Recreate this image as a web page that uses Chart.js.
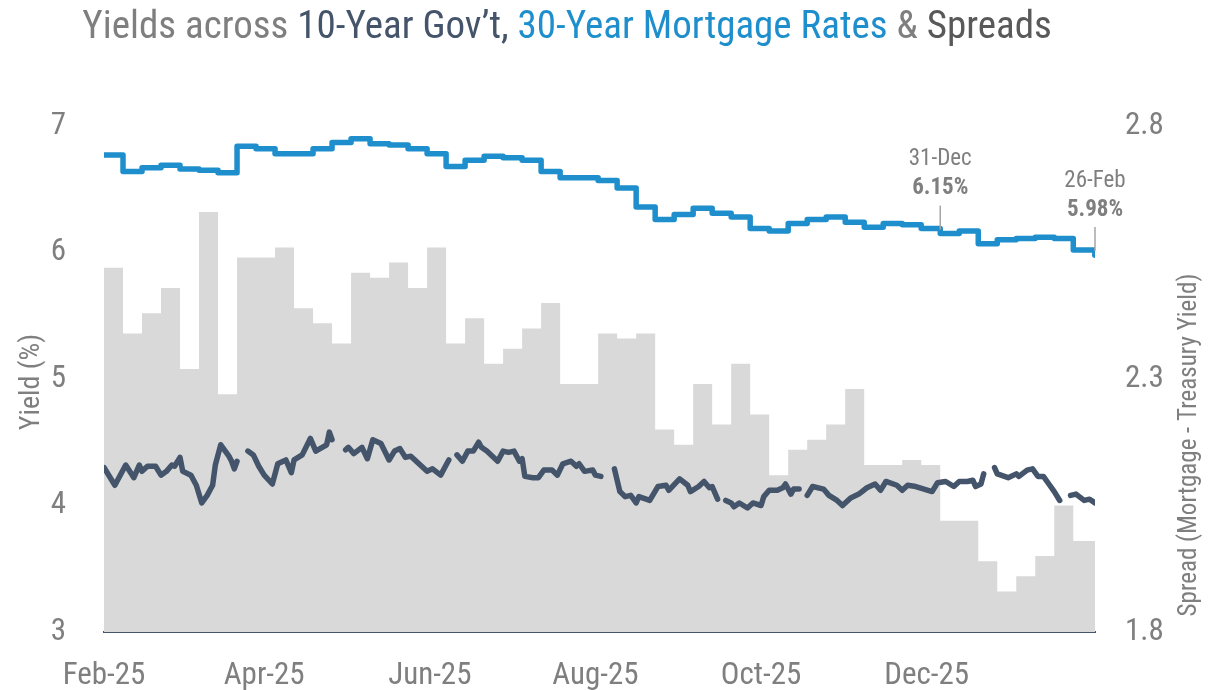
<!DOCTYPE html>
<html>
<head>
<meta charset="utf-8">
<script src="https://cdn.jsdelivr.net/npm/chart.js@4"></script>
<style>
  body { margin: 0; background: #fff; }
  #wrap { position: relative; width: 1212px; height: 690px; }
  #title {
    position: absolute; left: 0; top: 2px; width: 1134px;
    text-align: center; white-space: nowrap;
    font-family: 'Roboto Condensed', 'Liberation Sans Narrow', 'Arial Narrow', Roboto, sans-serif;
    font-size: 39px; color: #7f7f7f;
  }
  canvas { position: absolute; left: 0; top: 0; }
</style>
</head>
<body>
<div id="wrap">
  <canvas id="chart" width="1212" height="690"></canvas>
  <div id="title">Yields across <span style="color:#44546a">10-Year Gov’t,</span> <span style="color:#1e8fcc">30-Year Mortgage Rates</span> &amp; <span style="color:#595959">Spreads</span></div>
</div>
<script>
// x values are days since 26-Feb-2025
const xTickDays = [0, 59, 120, 181, 242, 303];
const xTickLabels = ["Feb-25", "Apr-25", "Jun-25", "Aug-25", "Oct-25", "Dec-25"];

// 30-year mortgage rate (weekly)
const mortgageDays = [0, 7, 14, 21, 28, 35, 42, 49, 56, 63,
  77, 84, 91, 98, 105, 112, 119, 126, 133, 140,
  147, 154, 161, 168, 182, 189, 196, 203, 210, 217,
  224, 231, 238, 245, 252, 259, 266, 273, 280, 287,
  294, 301, 308, 315, 322, 329, 336, 343, 350, 357,
  365];
const mortgageRates = [6.77, 6.64, 6.67, 6.69, 6.66, 6.65, 6.63, 6.84, 6.82, 6.78,
  6.82, 6.87, 6.90, 6.86, 6.85, 6.82, 6.78, 6.68, 6.73, 6.76,
  6.75, 6.73, 6.64, 6.59, 6.57, 6.51, 6.36, 6.26, 6.30, 6.35,
  6.31, 6.28, 6.19, 6.17, 6.23, 6.26, 6.28, 6.24, 6.20, 6.23,
  6.22, 6.19, 6.15, 6.17, 6.07, 6.10, 6.11, 6.12, 6.11, 6.02,
  5.98];

// 10-year treasury yield (null = no data)
const tsyDays = [0, 4, 8, 11, 13, 14, 16, 19, 21, 23,
  25, 26, 28, 29, 32, 33, 34, 36, 38, 40,
  41, 43, 46, 47, 48, 49, 51, 53, 55, 57,
  59, 62, 64, 67, 69, 70, 73, 76, 78, 82,
  83, 84, 86, 89, 90, 92, 95, 97, 99, 102,
  105, 107, 109, 111, 113, 116, 119, 121, 124, 126,
  127, 129, 130, 132, 134, 136, 138, 139, 141, 145,
  147, 149, 151, 153, 154, 155, 158, 160, 162, 165,
  167, 169, 172, 174, 175, 177, 180, 181, 183, 185,
  188, 190, 192, 194, 196, 197, 201, 204, 207, 208,
  212, 215, 216, 219, 221, 223, 224, 226, 228, 229,
  231, 232, 234, 237, 239, 242, 243, 245, 248, 250,
  251, 253, 254, 256, 257, 259, 261, 265, 267, 270,
  272, 275, 278, 281, 284, 286, 288, 292, 294, 296,
  299, 302, 305, 307, 310, 313, 315, 318, 320, 321,
  323, 324, 326, 328, 329, 333, 336, 337, 340, 342,
  344, 346, 348, 350, 352, 354, 356, 358, 361, 363,
  365];
const tsyYields = [4.30, 4.16, 4.32, 4.22, 4.32, 4.27, 4.31, 4.31, 4.24, 4.27,
  4.32, 4.31, 4.38, 4.27, 4.24, 4.20, 4.16, 4.02, 4.08, 4.16,
  4.32, 4.48, 4.39, 4.35, 4.29, 4.35, null, 4.43, 4.40, 4.31,
  4.24, 4.17, 4.33, 4.36, 4.26, 4.36, 4.40, 4.53, 4.43, 4.48,
  4.58, 4.52, null, 4.44, 4.46, 4.41, 4.46, 4.37, 4.52, 4.49,
  4.36, 4.43, 4.45, 4.38, 4.39, 4.33, 4.27, 4.29, 4.24, 4.32,
  4.36, null, 4.40, 4.35, 4.43, 4.43, 4.50, 4.46, 4.43, 4.35,
  4.43, 4.42, 4.43, 4.35, 4.37, 4.23, 4.22, 4.22, 4.28, 4.28,
  4.24, 4.33, 4.35, 4.31, 4.33, 4.27, 4.28, 4.24, 4.23, null,
  4.29, 4.11, 4.07, 4.08, 4.02, 4.07, 4.04, 4.15, 4.16, 4.12,
  4.21, 4.16, 4.11, 4.15, 4.19, 4.14, 4.15, 4.05, null, 4.04,
  4.02, 3.99, 4.02, 3.98, 4.02, 4.00, 4.07, 4.12, 4.12, 4.14,
  4.17, 4.09, 4.13, 4.13, null, 4.08, 4.15, 4.13, 4.08, 4.04,
  4.00, 4.06, 4.09, 4.14, 4.17, 4.12, 4.19, 4.16, 4.12, 4.16,
  4.15, 4.13, 4.11, 4.18, 4.19, 4.15, 4.19, 4.19, 4.20, 4.15,
  4.17, 4.25, null, 4.30, 4.25, 4.22, 4.25, 4.23, 4.28, 4.29,
  4.23, 4.23, 4.17, 4.11, 4.04, null, 4.08, 4.09, 4.04, 4.05,
  4.02];

// spread, mortgage - treasury (weekly, right axis)
const spreadDays = [0, 7, 14, 21, 28, 35, 42, 49, 63, 70,
  77, 84, 91, 98, 105, 112, 119, 126, 133, 140,
  147, 154, 161, 168, 175, 182, 189, 196, 203, 210,
  217, 224, 231, 238, 245, 252, 259, 266, 273, 280,
  294, 301, 308, 322, 329, 336, 343, 350, 357, 365];
const spreads = [2.52, 2.39, 2.43, 2.48, 2.32, 2.63, 2.27, 2.54, 2.56, 2.44,
  2.41, 2.37, 2.51, 2.50, 2.53, 2.48, 2.56, 2.37, 2.42, 2.33,
  2.36, 2.40, 2.45, 2.29, 2.29, 2.39, 2.38, 2.39, 2.20, 2.17,
  2.29, 2.21, 2.33, 2.23, 2.11, 2.16, 2.18, 2.21, 2.28, 2.13,
  2.14, 2.13, 2.02, 1.94, 1.88, 1.91, 1.95, 2.05, 1.98, 2.01];

// call-outs on the mortgage line
const noteDays = [308, 365];
const noteLabels = ["31-Dec", "26-Feb"];
const noteRates = [6.15, 5.98];

const FONT = "'Roboto Condensed', 'Liberation Sans Narrow', 'Arial Narrow', Roboto, sans-serif";
const GREY = '#7f7f7f';
const BLUE = '#1e8fcc';
const NAVY = '#44546a';

const pairs = (xs, ys) => xs.map((d, i) => ({ x: d, y: ys[i] }));

const extras = {
  id: 'extras',
  afterDatasetsDraw(chart) {
    const { ctx, scales: { x, y } } = chart;
    ctx.save();
    noteDays.forEach((d, i) => {
      const px = x.getPixelForValue(d);
      const py = y.getPixelForValue(noteRates[i]);
      ctx.strokeStyle = '#a6a6a6';
      ctx.lineWidth = 1.5;
      ctx.beginPath();
      ctx.moveTo(px, py - 4);
      ctx.lineTo(px, py - 28);
      ctx.stroke();
      ctx.fillStyle = GREY;
      ctx.textAlign = 'center';
      ctx.textBaseline = 'middle';
      ctx.font = '23px ' + FONT;
      ctx.fillText(noteLabels[i], px, py - 74);
      ctx.font = 'bold 23px ' + FONT;
      ctx.fillText(noteRates[i].toFixed(2) + '%', px, py - 45);
    });
    // axis titles
    ctx.fillStyle = GREY;
    ctx.textAlign = 'center';
    ctx.textBaseline = 'middle';
    ctx.font = '28px ' + FONT;
    ctx.translate(32, 382);
    ctx.rotate(-Math.PI / 2);
    ctx.fillText('Yield (%)', 0, 0);
    ctx.setTransform(1, 0, 0, 1, 0, 0);
    ctx.font = '25px ' + FONT;
    ctx.translate(1190, 445);
    ctx.rotate(-Math.PI / 2);
    ctx.fillText('Spread (Mortgage - Treasury Yield)', 0, 0);
    ctx.restore();
  }
};

new Chart(document.getElementById('chart'), {
  type: 'line',
  data: {
    datasets: [
      {
        label: '30-Year Mortgage',
        data: pairs(mortgageDays, mortgageRates),
        yAxisID: 'y',
        borderColor: BLUE,
        backgroundColor: BLUE,
        borderWidth: 5.5,
        borderJoinStyle: 'round',
        stepped: true,
        pointRadius: (c) => c.dataIndex === mortgageDays.length - 1 ? 3 : 0,
        pointBorderWidth: 0
      },
      {
        label: '10-Year Treasury',
        data: pairs(tsyDays, tsyYields),
        yAxisID: 'y',
        borderColor: NAVY,
        borderWidth: 5.5,
        borderJoinStyle: 'round',
        borderCapStyle: 'round',
        pointRadius: 0,
        spanGaps: false
      },
      {
        label: 'Spread',
        data: pairs(spreadDays, spreads),
        yAxisID: 'y2',
        stepped: true,
        borderWidth: 0,
        borderColor: '#d9d9d9',
        backgroundColor: '#d9d9d9',
        fill: 'start',
        pointRadius: 0
      }
    ]
  },
  options: {
    responsive: false,
    animation: false,
    layout: { padding: { top: 126, left: 0, right: 0, bottom: 0 } },
    scales: {
      x: {
        type: 'linear',
        min: 0,
        max: 365,
        afterBuildTicks: (s) => { s.ticks = xTickDays.map(v => ({ value: v })); },
        afterFit: (s) => { s.height = 58; },
        ticks: {
          autoSkip: false,
          maxRotation: 0,
          padding: 18,
          color: GREY,
          font: { family: FONT, size: 31 },
          callback: (v) => xTickLabels[xTickDays.indexOf(v)]
        },
        grid: { display: false },
        border: { display: true, color: NAVY, width: 2 }
      },
      y: {
        position: 'left',
        min: 3,
        max: 7,
        afterFit: (s) => { s.width = 104; },
        ticks: { stepSize: 1, padding: 30, color: GREY, font: { family: FONT, size: 31 } },
        grid: { display: false },
        border: { display: false }
      },
      y2: {
        position: 'right',
        min: 1.8,
        max: 2.8,
        afterFit: (s) => { s.width = 117; },
        ticks: { stepSize: 0.5, padding: 22, color: GREY, font: { family: FONT, size: 31 },
                 callback: (v) => v.toFixed(1) },
        grid: { display: false },
        border: { display: false }
      }
    },
    plugins: {
      legend: { display: false },
      tooltip: { enabled: false }
    }
  },
  plugins: [extras]
});
</script>
</body>
</html>
